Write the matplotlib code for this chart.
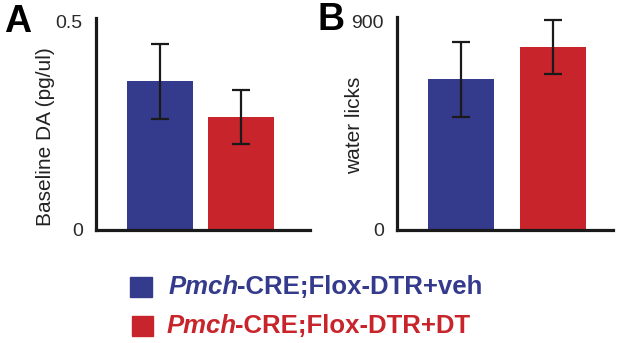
import matplotlib
matplotlib.use("Agg")
import matplotlib.pyplot as plt
from matplotlib.patches import Rectangle

plt.rcParams['font.family'] = ['Liberation Sans', 'DejaVu Sans']

# ---- data ----
groups = ["Pmch-CRE;Flox-DTR+veh", "Pmch-CRE;Flox-DTR+DT"]
group_italic = ["Pmch", "Pmch"]
group_rest = ["-CRE;Flox-DTR+veh", "-CRE;Flox-DTR+DT"]
colors = ["#343a8c", "#c8242b"]

da_means = [0.357, 0.272]
da_errs = [0.089, 0.065]
da_ticks = [0, 0.5]
da_ticklabels = ["0", "0.5"]

licks_means = [651, 792]
licks_errs = [161, 117]
licks_ticks = [0, 900]
licks_ticklabels = ["0", "900"]

W, H = 617, 343
fig = plt.figure(figsize=(W / 100, H / 100), dpi=100)


def px_axes(left, top, right, bottom):
    return fig.add_axes([left / W, 1 - bottom / H, (right - left) / W, (bottom - top) / H])


def style(ax, ticks, labels, ymax, xlim):
    for s in ["top", "right"]:
        ax.spines[s].set_visible(False)
    for s in ["left", "bottom"]:
        ax.spines[s].set_linewidth(2.3)
        ax.spines[s].set_color("#1a1a1a")
        ax.spines[s].set_capstyle("projecting")
    ax.set_ylim(0, ymax)
    ax.set_xlim(*xlim)
    ax.set_xticks([])
    ax.set_yticks(ticks)
    ax.set_yticklabels(labels)
    ax.tick_params(axis="y", length=0, pad=9.5, labelsize=14, labelcolor="#2a2a2a")


x = [0, 1]

# Panel A
axA = px_axes(96, 18, 310, 230)
axA.bar(x, da_means, width=0.815, color=colors, zorder=2)
axA.errorbar(x, da_means, yerr=da_errs, fmt="none", ecolor="#1a1a1a",
             elinewidth=1.6, capsize=6.5, capthick=1.6, zorder=3)
style(axA, da_ticks, da_ticklabels, 0.5 * 212 / 208, (-0.796, 1.846))
axA.set_ylabel("Baseline DA (pg/ul)", fontsize=15, ha="center", va="center",
               rotation_mode="default", color="#222222")
axA.yaxis.set_label_coords((45 - 96) / 214, (230 - 137) / 212)

# Panel B
axB = px_axes(397, 17, 613, 230)
axB.bar(x, licks_means, width=0.717, color=colors, zorder=2)
axB.errorbar(x, licks_means, yerr=licks_errs, fmt="none", ecolor="#1a1a1a",
             elinewidth=1.6, capsize=6.5, capthick=1.6, zorder=3)
style(axB, licks_ticks, licks_ticklabels, 900 * 213 / 208.3, (-0.696, 1.652))
axB.set_ylabel("water licks", fontsize=15, ha="center", va="center",
               rotation_mode="default", color="#222222")
axB.yaxis.set_label_coords((355 - 397) / 216, (230 - 125) / 213)

# Panel letters
fig.text(18 / W, 1 - 21.5 / H, "A", fontsize=27, fontweight="bold", ha="center", va="center")
fig.text(331.5 / W, 1 - 19.5 / H, "B", fontsize=27, fontweight="bold", ha="center", va="center")

# Legend
sq = [(130, 277, 22, 20), (132, 316, 21, 20)]
txt_x = [169, 167]
txt_y = [287, 326]
for i in range(2):
    l, t, w, h = sq[i]
    fig.patches.append(Rectangle((l / W, 1 - (t + h) / H), w / W, h / H,
                                 transform=fig.transFigure, color=colors[i]))
    t1 = fig.text(txt_x[i] / W, 1 - txt_y[i] / H, group_italic[i], fontsize=18.5,
                  fontweight="bold", fontstyle="italic", color=colors[i],
                  ha="left", va="center")
    fig.add_artist(plt.Annotation(group_rest[i], xy=(1, 0.5), xycoords=t1,
                                  xytext=(-1.5, 0), textcoords="offset points",
                                  fontsize=18.5, fontweight="bold", color=colors[i],
                                  ha="left", va="center"))

fig.savefig("out.png", dpi=100)
